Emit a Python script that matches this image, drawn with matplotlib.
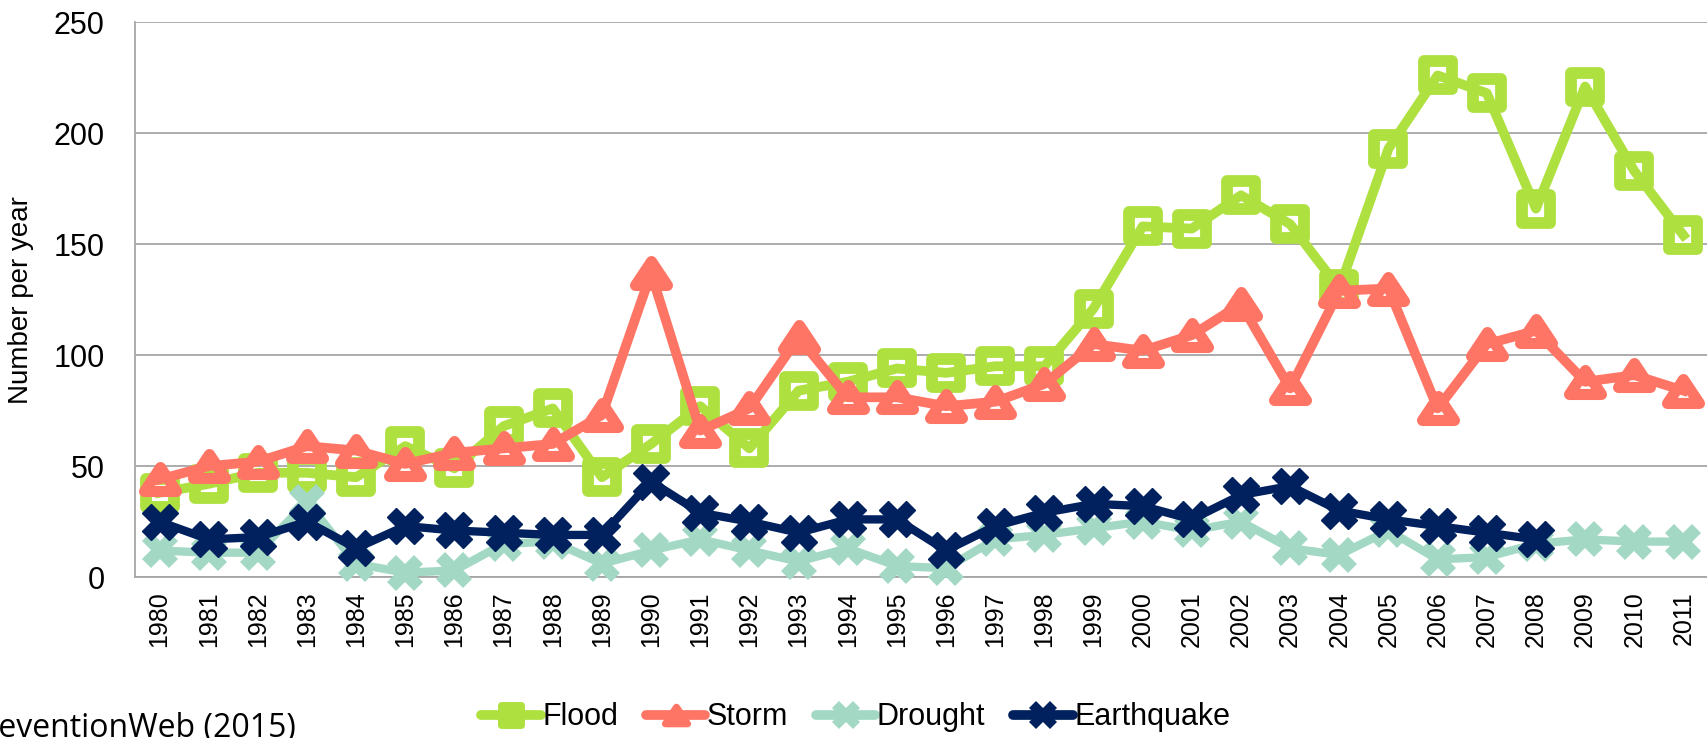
import numpy as np
import matplotlib
matplotlib.use("Agg")
import matplotlib.pyplot as plt
from matplotlib.markers import MarkerStyle
from matplotlib.path import Path
from matplotlib.lines import Line2D

plt.rcParams['font.family'] = ['Liberation Sans', 'DejaVu Sans']

# Disaster counts per year
years = list(range(1980, 2012))
flood = [38, 42, 47, 47, 45, 59, 49, 68, 76, 45, 60, 77, 58, 84, 88, 94,
         92, 95, 95, 121, 158, 157, 172, 159, 130, 193, 226, 218, 166, 221, 183, 154]
storm = [44, 50, 52, 59, 57, 51, 56, 58, 60, 73, 137, 66, 76, 108, 81, 81,
         77, 79, 87, 105, 102, 109, 123, 85, 129, 130, 76, 105, 111, 88, 91, 84]
drought = [12, 11, 11, 34, 6, 2, 3, 15, 16, 6, 12, 17, 12, 7, 13, 5,
           4, 17, 19, 22, 25, 21, 25, 13, 10, 21, 8, 9, 15, 17, 16, 16]
earthquake = [25, 17, 18, 25, 13, 23, 21, 20, 19, 19, 43, 29, 25, 20, 26, 26,
              12, 23, 29, 33, 32, 26, 37, 41, 30, 26, 23, 20, 17]

names = ['Flood', 'Storm', 'Drought', 'Earthquake']
c_flood = '#AEE03F'
c_storm = '#FF7565'
c_drought = '#A3D9C4'
c_quake = '#00205E'

x = np.arange(len(years))

fig = plt.figure(figsize=(17.08, 7.38), dpi=100)
ax = fig.add_axes([0.079, 0.218, 0.921, 0.752])

# wide, flat triangle with rounded corners
tri = Path([(-1, -0.75), (0, 0.75), (1, -0.75), (-1, -0.75)], closed=True)
sq_m = MarkerStyle('s', joinstyle='round')
tri_m = MarkerStyle(tri, joinstyle='round')

ax.plot(x, flood, color=c_flood, lw=7, marker=sq_m, ms=20, mew=8.5,
        mfc='none', mec=c_flood, solid_joinstyle='round', clip_on=False,
        zorder=3)
ax.plot(x, storm, color=c_storm, lw=7, marker=tri_m, ms=23, mew=8,
        mfc='none', mec=c_storm, solid_joinstyle='round', clip_on=False,
        zorder=4)
ax.plot(x, drought, color=c_drought, lw=6, marker='X', ms=26, mew=0,
        mfc=c_drought, solid_joinstyle='round', clip_on=False, zorder=5)
ax.plot(x[:len(earthquake)], earthquake, color=c_quake, lw=6, marker='X', ms=26,
        mew=1, mfc=c_quake, mec=c_quake, solid_joinstyle='round', clip_on=False,
        zorder=6)

ax.set_xlim(-0.5, len(years) - 0.5)
ax.set_ylim(0, 250)
ax.set_yticks(np.arange(0, 251, 50))
ax.set_xticks(x)
ax.set_xticklabels([str(y) for y in years], rotation=90, fontsize=18)
ax.tick_params(axis='y', labelsize=22, length=0, pad=22)
ax.tick_params(axis='x', length=0, pad=10)
ax.grid(axis='y', color='#A6A6A6', lw=1.3)
ax.set_axisbelow(True)
for s in ['top', 'right']:
    ax.spines[s].set_visible(False)
for s in ['left', 'bottom']:
    ax.spines[s].set_color('#A6A6A6')
    ax.spines[s].set_linewidth(1.3)
ax.set_ylabel('Number per year', fontsize=20, labelpad=14)

# legend keys use small solid markers
handles = [
    Line2D([], [], color=c_flood, lw=7, marker=sq_m, ms=14, mew=5, mfc=c_flood,
           mec=c_flood, solid_capstyle='round'),
    Line2D([], [], color=c_storm, lw=7, marker=tri_m, ms=16, mew=5, mfc=c_storm,
           mec=c_storm, solid_capstyle='round'),
    Line2D([], [], color=c_drought, lw=7, marker='X', ms=20, mew=0, mfc=c_drought,
           solid_capstyle='round'),
    Line2D([], [], color=c_quake, lw=7, marker='X', ms=20, mew=0, mfc=c_quake,
           solid_capstyle='round'),
]
fig.legend(handles, names, loc='center', bbox_to_anchor=(0.501, 0.028), ncol=4,
           frameon=False, fontsize=22, handlelength=1.95, handletextpad=0.05,
           columnspacing=0.9, borderpad=0)

fig.text(0.173, 0.001, 'PreventionWeb (2015)', ha='right', va='baseline',
         fontsize=23, family='Open Sans')

fig.savefig('out.png', dpi=100, bbox_inches=None)
